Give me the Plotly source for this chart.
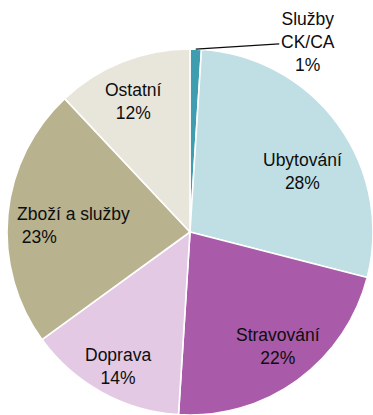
import math
import plotly.graph_objects as go

# Struktura výdajů (podíl v %)
categories = ["Služby CK/CA", "Ubytování", "Stravování", "Doprava", "Zboží a služby", "Ostatní"]
label_lines = ["Služby<br>CK/CA", "Ubytování", "Stravování", "Doprava", "Zboží a služby", "Ostatní"]
shares = [1, 28, 22, 14, 23, 12]

colors = ["#3f9db0", "#bfdfe4", "#a95aa8", "#e3c9e3", "#b8b28f", "#e8e6db"]

W, H = 373, 415
cx, cy, R = 190, 232, 183  # pie centre (px from top-left) and radius
FONT = dict(family="Liberation Sans, Arial, sans-serif", size=17.5, color="#0d0d0d")

fig = go.Figure(
    go.Pie(
        labels=categories,
        values=shares,
        textinfo="none",
        sort=False,
        direction="clockwise",
        rotation=0,
        marker=dict(colors=colors, line=dict(color="white", width=1.6)),
        domain=dict(x=[(cx - R) / W, (cx + R) / W], y=[(H - cy - R) / H, (H - cy + R) / H]),
        showlegend=False,
        hoverinfo="label+percent",
    )
)

total = sum(shares)


def to_paper(angle_deg, radius):
    """Polar position (clockwise from 12 o'clock) -> paper coordinates."""
    a = math.radians(angle_deg)
    return (cx + radius * math.sin(a)) / W, (H - (cy - radius * math.cos(a))) / H


# mid-angle of every slice
mids = []
acc = 0
for v in shares:
    mids.append(360 * (acc + v / 2) / total)
    acc += v

# inside labels: radial fraction, angular nudge (deg), alignment, indent of the % line
label_place = [None, (0.70, 7.6, "center", ""), (0.79, -1.5, "center", ""),
               (0.836, -0.7, "center", ""), (0.635, -2.2, "left", "\u00a0"),
               (0.778, -2.0, "center", "")]

for i, place in enumerate(label_place):
    if place is None:
        continue
    frac, nudge, align, indent = place
    px, py = to_paper(mids[i] + nudge, frac * R)
    fig.add_annotation(
        x=px, y=py, xref="paper", yref="paper",
        text=f"{label_lines[i]}<br>{indent}{shares[i]}%",
        showarrow=False, align=align, font=FONT,
        xanchor="center", yanchor="middle",
    )

# outside label for the smallest slice, with a leader line to its edge
tip_x, tip_y = to_paper(mids[0], R)
fig.add_annotation(
    x=tip_x, y=tip_y, xref="paper", yref="paper",
    text=f"{label_lines[0]}<br>{shares[0]}%",
    showarrow=True, arrowhead=0, arrowwidth=1.2, arrowcolor="#0d0d0d",
    ax=112, ay=-7, standoff=0,
    font=FONT, align="center",
)

fig.update_layout(
    width=W, height=H,
    margin=dict(l=0, r=0, t=0, b=0),
    paper_bgcolor="white",
    plot_bgcolor="white",
)

fig.write_html("out.html")
